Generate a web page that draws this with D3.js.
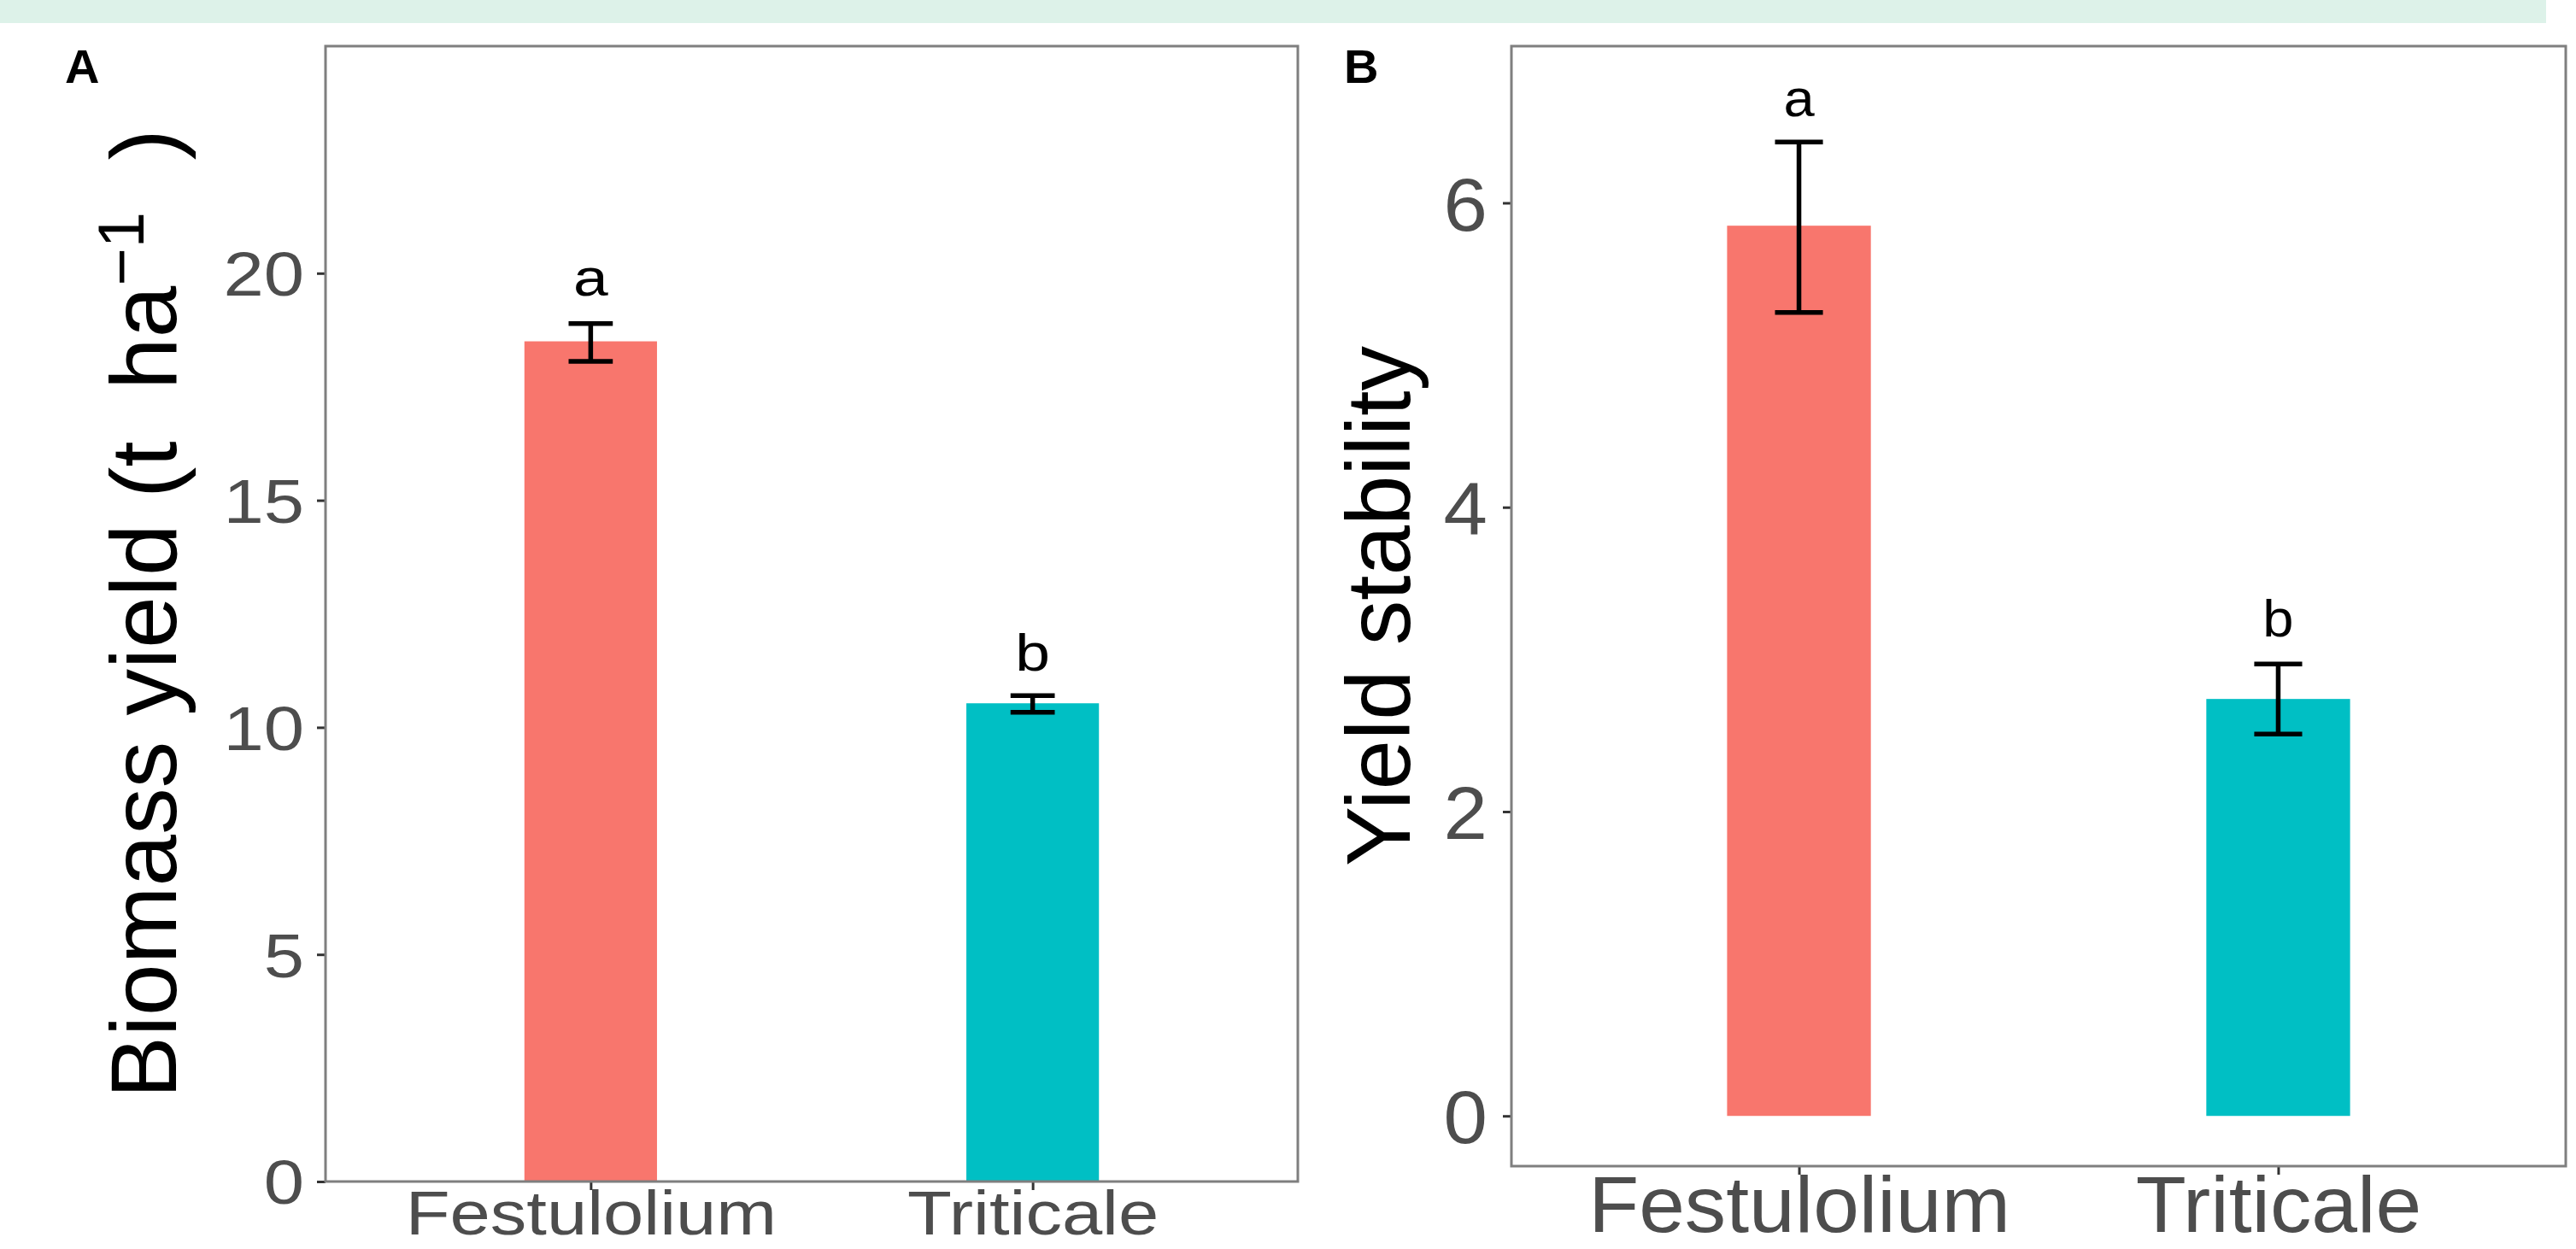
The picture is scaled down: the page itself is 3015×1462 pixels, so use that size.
<!DOCTYPE html>
<html>
<head>
<meta charset="utf-8">
<script src="https://cdn.jsdelivr.net/npm/d3@7"></script>
<style>
  body { margin: 0; background: #fff; }
  svg { display: block; font-family: "Liberation Sans", Arial, sans-serif; }
  text { white-space: pre; }
</style>
</head>
<body>
<div id="chart"></div>
<script>
// Data
var categories = ["Festulolium", "Triticale"];
var barColors = ["#F8766D", "#00BFC4"];

// Panel A: biomass yield (t ha-1)
var biomassMean = [18.5, 10.53];
var biomassLow = [18.06, 10.33];
var biomassHigh = [18.89, 10.70];
var biomassLetters = ["a", "b"];
var biomassLetterY = [19.5, 11.25];
var biomassTicks = [0, 5, 10, 15, 20];

// Panel B: yield stability
var stabilityMean = [5.85, 2.74];
var stabilityLow = [5.28, 2.51];
var stabilityHigh = [6.40, 2.97];
var stabilityLetters = ["a", "b"];
var stabilityLetterY = [6.57, 3.15];
var stabilityTicks = [0, 2, 4, 6];

var width = 3015;
var height = 1462;

var svg = d3.select("#chart").append("svg")
    .attr("width", width)
    .attr("height", height);

// cut-off caption band at the top
svg.append("rect")
    .attr("x", 0).attr("y", 0)
    .attr("width", 2980).attr("height", 27)
    .attr("fill", "#ddf2e9");

function drawPanel(p) {
    var g = svg.append("g");

    var x = d3.scalePoint()
        .domain(categories)
        .range([p.left, p.right])
        .padding(0.6);
    var step = x.step();

    var y = d3.scaleLinear()
        .domain(p.yDomain)
        .range([p.bottom, p.top]);

    var rows = categories.map(function(c, i) {
        return { name: c, mean: p.mean[i], low: p.low[i], high: p.high[i],
                 letter: p.letters[i], letterY: p.letterY[i], color: barColors[i] };
    });

    // bars
    g.selectAll("rect.bar")
        .data(rows)
        .enter().append("rect")
        .attr("class", "bar")
        .attr("x", function(d) { return x(d.name) - 0.15 * step; })
        .attr("width", 0.3 * step)
        .attr("y", function(d) { return y(d.mean); })
        .attr("height", function(d) { return y(0) - y(d.mean); })
        .attr("fill", function(d) { return d.color; });

    // error bars
    var eb = g.selectAll("g.err")
        .data(rows)
        .enter().append("g")
        .attr("class", "err")
        .attr("stroke", "#000")
        .attr("stroke-width", 5.5);
    eb.append("line")
        .attr("x1", function(d) { return x(d.name); })
        .attr("x2", function(d) { return x(d.name); })
        .attr("y1", function(d) { return y(d.low); })
        .attr("y2", function(d) { return y(d.high); });
    eb.append("line")
        .attr("x1", function(d) { return x(d.name) - 0.05 * step; })
        .attr("x2", function(d) { return x(d.name) + 0.05 * step; })
        .attr("y1", function(d) { return y(d.high); })
        .attr("y2", function(d) { return y(d.high); });
    eb.append("line")
        .attr("x1", function(d) { return x(d.name) - 0.05 * step; })
        .attr("x2", function(d) { return x(d.name) + 0.05 * step; })
        .attr("y1", function(d) { return y(d.low); })
        .attr("y2", function(d) { return y(d.low); });

    // significance letters
    g.selectAll("text.letter")
        .data(rows)
        .enter().append("text")
        .attr("class", "letter")
        .attr("text-anchor", "middle")
        .attr("transform", function(d) {
            return "translate(" + x(d.name) + "," + y(d.letterY) + ") scale(" + p.sx + ",1)";
        })
        .style("font-size", p.letterSize + "px")
        .attr("fill", "#000")
        .text(function(d) { return d.letter; });

    // y axis
    var yAxis = g.append("g")
        .attr("transform", "translate(" + p.left + ",0)")
        .call(d3.axisLeft(y).tickValues(p.ticks).tickSize(10).tickPadding(0));
    yAxis.select(".domain").remove();
    yAxis.selectAll(".tick line").attr("stroke", "#333").attr("stroke-width", 3);
    yAxis.selectAll(".tick text")
        .attr("x", null)
        .attr("dy", "0.36em")
        .attr("transform", "translate(" + (-10 - p.tickGap) + ",0) scale(" + p.sx + ",1)")
        .attr("fill", "#4d4d4d")
        .style("font-size", p.tickSize + "px")
        .style("font-family", "Liberation Sans, Arial, sans-serif");

    // x axis
    var xAxis = g.append("g")
        .attr("transform", "translate(0," + p.bottom + ")")
        .call(d3.axisBottom(x).tickSize(10).tickPadding(0));
    xAxis.select(".domain").remove();
    xAxis.selectAll(".tick line").attr("stroke", "#333").attr("stroke-width", 3);
    xAxis.selectAll(".tick text")
        .attr("y", null)
        .attr("dy", null)
        .attr("transform", "translate(0," + p.xLabelBase + ") scale(" + p.sx + ",1)")
        .attr("fill", "#4d4d4d")
        .style("font-size", p.xLabelSize + "px")
        .style("font-family", "Liberation Sans, Arial, sans-serif");

    // panel border
    g.append("rect")
        .attr("x", p.left).attr("y", p.top)
        .attr("width", p.right - p.left)
        .attr("height", p.bottom - p.top)
        .attr("fill", "none")
        .attr("stroke", "#7f7f7f")
        .attr("stroke-width", 3);

    // y title
    var title = g.append("text")
        .attr("text-anchor", "middle")
        .attr("transform", "translate(" + p.titleX + "," + ((p.top + p.bottom) / 2) + ") rotate(-90)")
        .style("font-size", p.titleSize + "px")
        .attr("fill", "#000");
    p.title(title);

    // panel tag
    g.append("text")
        .attr("x", p.tagX)
        .attr("y", p.tagY)
        .style("font-size", "56px")
        .style("font-weight", "bold")
        .attr("fill", "#000")
        .text(p.tag);
}

drawPanel({
    left: 381, right: 1519, top: 54, bottom: 1383,
    yDomain: [0, 25], ticks: biomassTicks,
    mean: biomassMean, low: biomassLow, high: biomassHigh,
    letters: biomassLetters, letterY: biomassLetterY,
    sx: 1.18, letterSize: 62, tickSize: 72, tickGap: 15,
    xLabelSize: 72, xLabelBase: 62,
    titleX: 206, titleSize: 109,
    title: function(t) {
        t.append("tspan").text("Biomass yield (t  ha");
        t.append("tspan").attr("dy", "-0.5em").style("font-size", "76px").text("\u22121");
        t.append("tspan").attr("dy", "0.35em").text("  )");
    },
    tag: "A", tagX: 76, tagY: 97
});

drawPanel({
    left: 1769, right: 3003, top: 54, bottom: 1365,
    yDomain: [-0.33, 7.03], ticks: stabilityTicks,
    mean: stabilityMean, low: stabilityLow, high: stabilityHigh,
    letters: stabilityLetters, letterY: stabilityLetterY,
    sx: 1.05, letterSize: 62, tickSize: 88, tickGap: 18,
    xLabelSize: 92, xLabelBase: 77,
    titleX: 1650, titleSize: 105,
    title: function(t) { t.text("Yield stability"); },
    tag: "B", tagX: 1573, tagY: 97
});
</script>
</body>
</html>
